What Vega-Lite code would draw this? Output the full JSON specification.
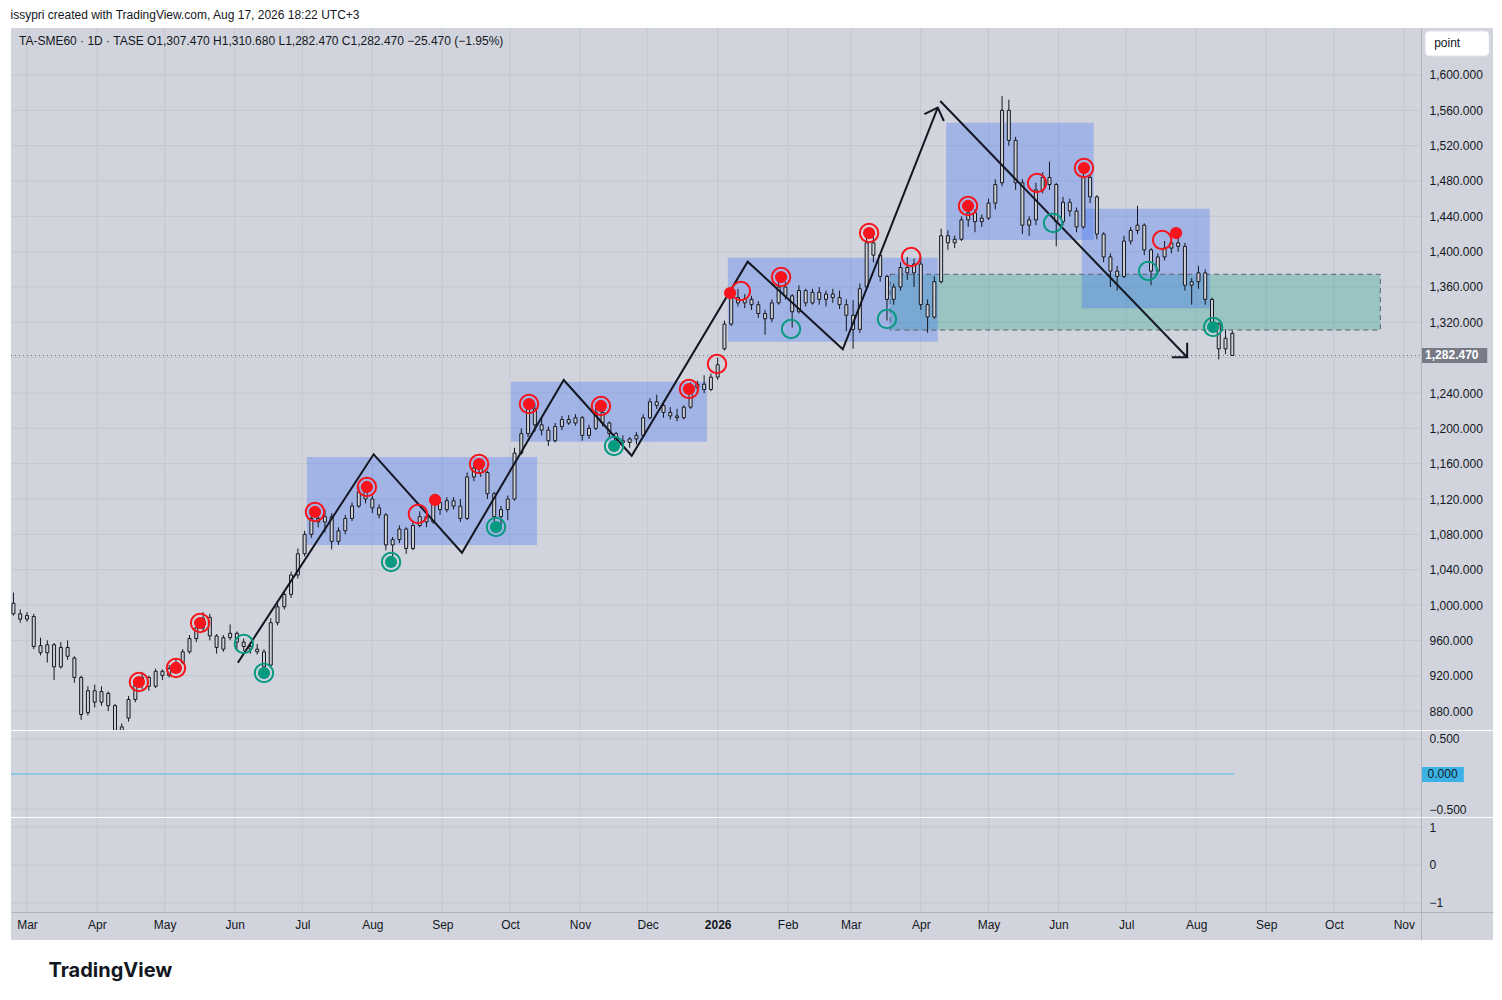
{
  "$schema": "https://vega.github.io/schema/vega-lite/v6.json",
  "padding": {"left": 10, "top": 8, "right": 10, "bottom": 10},
  "spacing": 1,
  "bounds": "flush",
  "config": {
    "font": "Liberation Sans",
    "background": "#ffffff",
    "view": {"stroke": null, "fill": "#d1d4dc"},
    "scale": {"continuousPadding": 0}
  },
  "datasets": {
    "months": [
      {"m": "2025-03-01"}, {"m": "2025-04-01"}, {"m": "2025-05-01"}, {"m": "2025-06-01"}, {"m": "2025-07-01"},
      {"m": "2025-08-01"}, {"m": "2025-09-01"}, {"m": "2025-10-01"}, {"m": "2025-11-01"}, {"m": "2025-12-01"},
      {"m": "2026-01-01"}, {"m": "2026-02-01"}, {"m": "2026-03-01"}, {"m": "2026-04-01"}, {"m": "2026-05-01"},
      {"m": "2026-06-01"}, {"m": "2026-07-01"}, {"m": "2026-08-01"}, {"m": "2026-09-01"}, {"m": "2026-10-01"},
      {"m": "2026-11-01"}
    ],
    "boxes": [
      {"x1": "2026-03-18T10:00:00Z", "x2": "2026-10-21T14:00:00Z", "p1": 1311.3, "p2": 1374.4, "k": "green"},
      {"x1": "2025-07-03T00:00:00Z", "x2": "2025-10-13T00:00:00Z", "p1": 1067.9, "p2": 1167.5, "k": "blue"},
      {"x1": "2025-10-01T10:00:00Z", "x2": "2025-12-27T07:00:00Z", "p1": 1184.9, "p2": 1252.8, "k": "blue"},
      {"x1": "2026-01-05T12:00:00Z", "x2": "2026-04-08T12:00:00Z", "p1": 1298.1, "p2": 1393.2, "k": "blue"},
      {"x1": "2026-04-12T05:00:00Z", "x2": "2026-06-16T14:00:00Z", "p1": 1413.2, "p2": 1546, "k": "blue"},
      {"x1": "2026-06-11T07:00:00Z", "x2": "2026-08-07T00:00:00Z", "p1": 1335.9, "p2": 1448.6, "k": "blue"}
    ],
    "lines": [
      {"g": "zig", "i": 0, "d": "2025-06-02T10:00:00Z", "p": 934.7},
      {"g": "zig", "i": 1, "d": "2025-08-01T14:00:00Z", "p": 1170.6},
      {"g": "zig", "i": 2, "d": "2025-09-09T17:00:00Z", "p": 1059.2},
      {"g": "zig", "i": 3, "d": "2025-10-24T19:00:00Z", "p": 1254.7},
      {"g": "zig", "i": 4, "d": "2025-11-23T22:00:00Z", "p": 1169},
      {"g": "zig", "i": 5, "d": "2026-01-14T07:00:00Z", "p": 1388.7},
      {"g": "zig", "i": 6, "d": "2026-02-25T10:00:00Z", "p": 1289.5},
      {"g": "zig", "i": 7, "d": "2026-04-08T12:00:00Z", "p": 1563},
      {"g": "ah1", "i": 0, "d": "2026-04-02T14:00:00Z", "p": 1555.8},
      {"g": "ah1", "i": 1, "d": "2026-04-08T12:00:00Z", "p": 1563},
      {"g": "ah1", "i": 2, "d": "2026-04-11T05:00:00Z", "p": 1547.9},
      {"g": "down", "i": 0, "d": "2026-04-09T14:00:00Z", "p": 1570.6},
      {"g": "down", "i": 1, "d": "2026-07-28T00:00:00Z", "p": 1280.4},
      {"g": "ah2", "i": 0, "d": "2026-07-28T00:00:00Z", "p": 1296.9},
      {"g": "ah2", "i": 1, "d": "2026-07-28T00:00:00Z", "p": 1280.4},
      {"g": "ah2", "i": 2, "d": "2026-07-21T05:00:00Z", "p": 1280.4}
    ],
    "sig": [
      {"d": "2025-04-19T14:00:00Z", "p": 912.8, "c": "r", "t": "double"},
      {"d": "2025-05-06T00:00:00Z", "p": 928.7, "c": "r", "t": "double"},
      {"d": "2025-05-16T17:00:00Z", "p": 979.6, "c": "r", "t": "double"},
      {"d": "2025-07-06T14:00:00Z", "p": 1105.3, "c": "r", "t": "double"},
      {"d": "2025-07-29T14:00:00Z", "p": 1133.6, "c": "r", "t": "double"},
      {"d": "2025-08-21T05:00:00Z", "p": 1103, "c": "r", "t": "open"},
      {"d": "2025-08-28T19:00:00Z", "p": 1118.9, "c": "r", "t": "dot"},
      {"d": "2025-09-17T07:00:00Z", "p": 1159.6, "c": "r", "t": "double"},
      {"d": "2025-10-09T10:00:00Z", "p": 1227.5, "c": "r", "t": "double"},
      {"d": "2025-11-10T07:00:00Z", "p": 1225.3, "c": "r", "t": "double"},
      {"d": "2025-12-19T07:00:00Z", "p": 1244.5, "c": "r", "t": "double"},
      {"d": "2025-12-31T17:00:00Z", "p": 1272.8, "c": "r", "t": "open"},
      {"d": "2026-01-06T12:00:00Z", "p": 1353.2, "c": "r", "t": "dot"},
      {"d": "2026-01-11T07:00:00Z", "p": 1355.5, "c": "r", "t": "open"},
      {"d": "2026-01-29T02:00:00Z", "p": 1371.3, "c": "r", "t": "double"},
      {"d": "2026-03-09T02:00:00Z", "p": 1421.1, "c": "r", "t": "double"},
      {"d": "2026-03-27T17:00:00Z", "p": 1394, "c": "r", "t": "open"},
      {"d": "2026-04-21T22:00:00Z", "p": 1451.7, "c": "r", "t": "double"},
      {"d": "2026-05-22T12:00:00Z", "p": 1477.7, "c": "r", "t": "open"},
      {"d": "2026-06-12T07:00:00Z", "p": 1494.7, "c": "r", "t": "double"},
      {"d": "2026-07-16T22:00:00Z", "p": 1413.2, "c": "r", "t": "open"},
      {"d": "2026-07-23T02:00:00Z", "p": 1421.1, "c": "r", "t": "dot"},
      {"d": "2025-06-05T02:00:00Z", "p": 955.8, "c": "g", "t": "open"},
      {"d": "2025-06-14T00:00:00Z", "p": 923, "c": "g", "t": "double"},
      {"d": "2025-08-09T07:00:00Z", "p": 1048.7, "c": "g", "t": "double"},
      {"d": "2025-09-24T19:00:00Z", "p": 1088.3, "c": "g", "t": "double"},
      {"d": "2025-11-16T02:00:00Z", "p": 1180, "c": "g", "t": "double"},
      {"d": "2026-02-02T12:00:00Z", "p": 1312.4, "c": "g", "t": "open"},
      {"d": "2026-03-17T00:00:00Z", "p": 1323.7, "c": "g", "t": "open"},
      {"d": "2026-05-29T14:00:00Z", "p": 1432.4, "c": "g", "t": "open"},
      {"d": "2026-07-10T17:00:00Z", "p": 1378.1, "c": "g", "t": "open"},
      {"d": "2026-08-08T12:00:00Z", "p": 1314.7, "c": "g", "t": "double"}
    ],
    "cndl": [
      {"d": "2025-02-23", "o": 1002, "h": 1014, "l": 988, "c": 990},
      {"d": "2025-02-26", "o": 990, "h": 995, "l": 980, "c": 984},
      {"d": "2025-03-01", "o": 984, "h": 992, "l": 981, "c": 988},
      {"d": "2025-03-04", "o": 987, "h": 990, "l": 950, "c": 953},
      {"d": "2025-03-07", "o": 954, "h": 963, "l": 943, "c": 946},
      {"d": "2025-03-10", "o": 946, "h": 960, "l": 935, "c": 955},
      {"d": "2025-03-13", "o": 955, "h": 957, "l": 915, "c": 930},
      {"d": "2025-03-16", "o": 930, "h": 958, "l": 928, "c": 952},
      {"d": "2025-03-19", "o": 952, "h": 960, "l": 938, "c": 942},
      {"d": "2025-03-22", "o": 940, "h": 942, "l": 912, "c": 918},
      {"d": "2025-03-25", "o": 918, "h": 920, "l": 870, "c": 876},
      {"d": "2025-03-28", "o": 878, "h": 908, "l": 875, "c": 903},
      {"d": "2025-03-31", "o": 903, "h": 910, "l": 884, "c": 890},
      {"d": "2025-04-03", "o": 890, "h": 908, "l": 886, "c": 902},
      {"d": "2025-04-06", "o": 900, "h": 902, "l": 880, "c": 886},
      {"d": "2025-04-09", "o": 886, "h": 888, "l": 848, "c": 858},
      {"d": "2025-04-12", "o": 858, "h": 866, "l": 850, "c": 862},
      {"d": "2025-04-15", "o": 872, "h": 897, "l": 868, "c": 893},
      {"d": "2025-04-18", "o": 893, "h": 915, "l": 890, "c": 910},
      {"d": "2025-04-21", "o": 910, "h": 924, "l": 905, "c": 918},
      {"d": "2025-04-24", "o": 918, "h": 920, "l": 903, "c": 908},
      {"d": "2025-04-27", "o": 908, "h": 928, "l": 906, "c": 925},
      {"d": "2025-04-30", "o": 925, "h": 927, "l": 915, "c": 920},
      {"d": "2025-05-03", "o": 920, "h": 932, "l": 918, "c": 928},
      {"d": "2025-05-06", "o": 928, "h": 940, "l": 922, "c": 935},
      {"d": "2025-05-09", "o": 935, "h": 950, "l": 933, "c": 947},
      {"d": "2025-05-12", "o": 947, "h": 966, "l": 945, "c": 962},
      {"d": "2025-05-15", "o": 962, "h": 977, "l": 958, "c": 974},
      {"d": "2025-05-18", "o": 974, "h": 992, "l": 970, "c": 985},
      {"d": "2025-05-21", "o": 986, "h": 990, "l": 960, "c": 965},
      {"d": "2025-05-24", "o": 965, "h": 967, "l": 945, "c": 952},
      {"d": "2025-05-27", "o": 950, "h": 966, "l": 947, "c": 963},
      {"d": "2025-05-30", "o": 963, "h": 978, "l": 960, "c": 968},
      {"d": "2025-06-02", "o": 968, "h": 970, "l": 950, "c": 958},
      {"d": "2025-06-05", "o": 958, "h": 962, "l": 948, "c": 953},
      {"d": "2025-06-08", "o": 953, "h": 957, "l": 945, "c": 950},
      {"d": "2025-06-11", "o": 950, "h": 956, "l": 944, "c": 947},
      {"d": "2025-06-14", "o": 947, "h": 950, "l": 920, "c": 930},
      {"d": "2025-06-17", "o": 932, "h": 985, "l": 930, "c": 980},
      {"d": "2025-06-20", "o": 980, "h": 1002, "l": 977, "c": 998},
      {"d": "2025-06-23", "o": 998, "h": 1016, "l": 995, "c": 1012},
      {"d": "2025-06-26", "o": 1012, "h": 1038, "l": 1008, "c": 1034},
      {"d": "2025-06-29", "o": 1034, "h": 1064, "l": 1030, "c": 1058},
      {"d": "2025-07-02", "o": 1058, "h": 1084, "l": 1055, "c": 1080},
      {"d": "2025-07-05", "o": 1080, "h": 1104, "l": 1076, "c": 1098},
      {"d": "2025-07-08", "o": 1098, "h": 1105, "l": 1088, "c": 1094},
      {"d": "2025-07-11", "o": 1094, "h": 1108, "l": 1082, "c": 1100},
      {"d": "2025-07-14", "o": 1100, "h": 1104, "l": 1063, "c": 1072},
      {"d": "2025-07-17", "o": 1072, "h": 1088, "l": 1068, "c": 1084},
      {"d": "2025-07-20", "o": 1084, "h": 1102, "l": 1080, "c": 1098},
      {"d": "2025-07-23", "o": 1098, "h": 1116, "l": 1095, "c": 1112},
      {"d": "2025-07-26", "o": 1112, "h": 1134, "l": 1110, "c": 1128},
      {"d": "2025-07-29", "o": 1128, "h": 1136, "l": 1115, "c": 1120},
      {"d": "2025-08-01", "o": 1120, "h": 1124, "l": 1104, "c": 1110},
      {"d": "2025-08-04", "o": 1110, "h": 1114, "l": 1098, "c": 1102},
      {"d": "2025-08-07", "o": 1102, "h": 1104, "l": 1062, "c": 1068},
      {"d": "2025-08-10", "o": 1068, "h": 1077, "l": 1055, "c": 1074},
      {"d": "2025-08-13", "o": 1074, "h": 1090, "l": 1070, "c": 1086},
      {"d": "2025-08-16", "o": 1086, "h": 1088, "l": 1058, "c": 1064},
      {"d": "2025-08-19", "o": 1064, "h": 1094, "l": 1062, "c": 1090},
      {"d": "2025-08-22", "o": 1090, "h": 1106, "l": 1088, "c": 1100},
      {"d": "2025-08-25", "o": 1100, "h": 1102, "l": 1088, "c": 1094},
      {"d": "2025-08-28", "o": 1094, "h": 1122, "l": 1092, "c": 1116},
      {"d": "2025-08-31", "o": 1116, "h": 1122, "l": 1102, "c": 1108},
      {"d": "2025-09-03", "o": 1108, "h": 1122, "l": 1105, "c": 1118},
      {"d": "2025-09-06", "o": 1118, "h": 1122, "l": 1108, "c": 1112},
      {"d": "2025-09-09", "o": 1112, "h": 1120, "l": 1094, "c": 1098},
      {"d": "2025-09-12", "o": 1098, "h": 1150, "l": 1096, "c": 1145},
      {"d": "2025-09-15", "o": 1145, "h": 1160, "l": 1140, "c": 1155},
      {"d": "2025-09-18", "o": 1155, "h": 1162, "l": 1145, "c": 1150},
      {"d": "2025-09-21", "o": 1150, "h": 1152, "l": 1120, "c": 1126},
      {"d": "2025-09-24", "o": 1126, "h": 1128, "l": 1094, "c": 1100},
      {"d": "2025-09-27", "o": 1100, "h": 1112, "l": 1085, "c": 1108},
      {"d": "2025-09-30", "o": 1108, "h": 1124, "l": 1096, "c": 1120},
      {"d": "2025-10-03", "o": 1120, "h": 1178, "l": 1118, "c": 1172},
      {"d": "2025-10-06", "o": 1172, "h": 1200, "l": 1170, "c": 1194},
      {"d": "2025-10-09", "o": 1194, "h": 1230, "l": 1190, "c": 1222},
      {"d": "2025-10-12", "o": 1222, "h": 1228, "l": 1196, "c": 1204},
      {"d": "2025-10-15", "o": 1204, "h": 1212, "l": 1192, "c": 1198},
      {"d": "2025-10-18", "o": 1198, "h": 1202, "l": 1180, "c": 1186},
      {"d": "2025-10-21", "o": 1186, "h": 1206, "l": 1184, "c": 1202},
      {"d": "2025-10-24", "o": 1202, "h": 1214, "l": 1198, "c": 1210},
      {"d": "2025-10-27", "o": 1210, "h": 1215, "l": 1204, "c": 1206},
      {"d": "2025-10-30", "o": 1206, "h": 1216, "l": 1203, "c": 1212},
      {"d": "2025-11-02", "o": 1212, "h": 1214, "l": 1186, "c": 1192},
      {"d": "2025-11-05", "o": 1192, "h": 1204, "l": 1188, "c": 1200},
      {"d": "2025-11-08", "o": 1200, "h": 1225, "l": 1198, "c": 1218},
      {"d": "2025-11-11", "o": 1218, "h": 1226, "l": 1202, "c": 1206},
      {"d": "2025-11-14", "o": 1206, "h": 1208, "l": 1188, "c": 1194},
      {"d": "2025-11-17", "o": 1194, "h": 1196, "l": 1178, "c": 1186},
      {"d": "2025-11-20", "o": 1186, "h": 1192, "l": 1180, "c": 1184},
      {"d": "2025-11-23", "o": 1184, "h": 1190, "l": 1178, "c": 1188},
      {"d": "2025-11-26", "o": 1188, "h": 1196, "l": 1182, "c": 1192},
      {"d": "2025-11-29", "o": 1192, "h": 1216, "l": 1190, "c": 1212},
      {"d": "2025-12-02", "o": 1212, "h": 1234, "l": 1210, "c": 1230},
      {"d": "2025-12-05", "o": 1230, "h": 1238, "l": 1222, "c": 1226},
      {"d": "2025-12-08", "o": 1226, "h": 1228, "l": 1212, "c": 1218},
      {"d": "2025-12-11", "o": 1218, "h": 1224, "l": 1210, "c": 1214},
      {"d": "2025-12-14", "o": 1214, "h": 1222, "l": 1208, "c": 1212},
      {"d": "2025-12-17", "o": 1212, "h": 1226, "l": 1210, "c": 1224},
      {"d": "2025-12-20", "o": 1224, "h": 1252, "l": 1222, "c": 1246},
      {"d": "2025-12-23", "o": 1246, "h": 1254, "l": 1240, "c": 1250},
      {"d": "2025-12-26", "o": 1250, "h": 1260, "l": 1240, "c": 1244},
      {"d": "2025-12-29", "o": 1244, "h": 1262, "l": 1242, "c": 1258},
      {"d": "2026-01-01", "o": 1258, "h": 1280, "l": 1255, "c": 1272},
      {"d": "2026-01-04", "o": 1290, "h": 1322, "l": 1288, "c": 1318},
      {"d": "2026-01-07", "o": 1318, "h": 1356, "l": 1316, "c": 1348},
      {"d": "2026-01-10", "o": 1348, "h": 1358, "l": 1338, "c": 1342},
      {"d": "2026-01-13", "o": 1342, "h": 1352, "l": 1336, "c": 1346},
      {"d": "2026-01-16", "o": 1346, "h": 1350, "l": 1334, "c": 1340},
      {"d": "2026-01-19", "o": 1340, "h": 1344, "l": 1325, "c": 1330},
      {"d": "2026-01-22", "o": 1330, "h": 1334, "l": 1306, "c": 1324},
      {"d": "2026-01-25", "o": 1324, "h": 1346, "l": 1320, "c": 1342},
      {"d": "2026-01-28", "o": 1342, "h": 1372, "l": 1340, "c": 1360},
      {"d": "2026-01-31", "o": 1360, "h": 1366, "l": 1346, "c": 1350},
      {"d": "2026-02-03", "o": 1350, "h": 1352, "l": 1314, "c": 1332},
      {"d": "2026-02-06", "o": 1332, "h": 1362, "l": 1330, "c": 1356},
      {"d": "2026-02-09", "o": 1356, "h": 1358, "l": 1338, "c": 1342},
      {"d": "2026-02-12", "o": 1342, "h": 1358, "l": 1340, "c": 1354},
      {"d": "2026-02-15", "o": 1354, "h": 1360, "l": 1340, "c": 1346},
      {"d": "2026-02-18", "o": 1346, "h": 1356, "l": 1338, "c": 1352},
      {"d": "2026-02-21", "o": 1352, "h": 1358, "l": 1342, "c": 1348},
      {"d": "2026-02-24", "o": 1348, "h": 1356, "l": 1335, "c": 1340},
      {"d": "2026-02-27", "o": 1340, "h": 1346, "l": 1310, "c": 1328},
      {"d": "2026-03-02", "o": 1328, "h": 1345, "l": 1290, "c": 1312},
      {"d": "2026-03-05", "o": 1312, "h": 1364, "l": 1308, "c": 1358},
      {"d": "2026-03-08", "o": 1360, "h": 1416, "l": 1356, "c": 1410},
      {"d": "2026-03-11", "o": 1410, "h": 1422, "l": 1388, "c": 1396},
      {"d": "2026-03-14", "o": 1396, "h": 1398, "l": 1366, "c": 1372},
      {"d": "2026-03-17", "o": 1372, "h": 1374, "l": 1322, "c": 1346},
      {"d": "2026-03-20", "o": 1346, "h": 1364, "l": 1340, "c": 1360},
      {"d": "2026-03-23", "o": 1360, "h": 1388, "l": 1356, "c": 1382},
      {"d": "2026-03-26", "o": 1382, "h": 1394, "l": 1368, "c": 1376},
      {"d": "2026-03-29", "o": 1376, "h": 1392, "l": 1360, "c": 1386},
      {"d": "2026-04-01", "o": 1386, "h": 1394, "l": 1334, "c": 1340},
      {"d": "2026-04-04", "o": 1340, "h": 1346, "l": 1308, "c": 1326},
      {"d": "2026-04-07", "o": 1326, "h": 1372, "l": 1324, "c": 1366},
      {"d": "2026-04-10", "o": 1366, "h": 1426, "l": 1364, "c": 1418},
      {"d": "2026-04-13", "o": 1418, "h": 1424, "l": 1402, "c": 1410},
      {"d": "2026-04-16", "o": 1410, "h": 1418, "l": 1404, "c": 1414},
      {"d": "2026-04-19", "o": 1414, "h": 1440, "l": 1412, "c": 1436},
      {"d": "2026-04-22", "o": 1436, "h": 1452, "l": 1428, "c": 1444},
      {"d": "2026-04-25", "o": 1444, "h": 1448, "l": 1422, "c": 1434},
      {"d": "2026-04-28", "o": 1434, "h": 1442, "l": 1428, "c": 1438},
      {"d": "2026-05-01", "o": 1438, "h": 1460, "l": 1436, "c": 1455},
      {"d": "2026-05-04", "o": 1455, "h": 1482, "l": 1448, "c": 1476},
      {"d": "2026-05-07", "o": 1478, "h": 1576, "l": 1474, "c": 1560},
      {"d": "2026-05-10", "o": 1560, "h": 1572, "l": 1520, "c": 1526},
      {"d": "2026-05-13", "o": 1526, "h": 1530, "l": 1470, "c": 1478},
      {"d": "2026-05-16", "o": 1478, "h": 1482, "l": 1420, "c": 1430},
      {"d": "2026-05-19", "o": 1430, "h": 1440, "l": 1418, "c": 1436},
      {"d": "2026-05-22", "o": 1436, "h": 1478, "l": 1430, "c": 1470},
      {"d": "2026-05-25", "o": 1470, "h": 1490, "l": 1466, "c": 1484},
      {"d": "2026-05-28", "o": 1484, "h": 1502, "l": 1470, "c": 1476},
      {"d": "2026-05-31", "o": 1476, "h": 1478, "l": 1406, "c": 1434},
      {"d": "2026-06-03", "o": 1434, "h": 1462, "l": 1430, "c": 1456},
      {"d": "2026-06-06", "o": 1456, "h": 1460, "l": 1440, "c": 1446},
      {"d": "2026-06-09", "o": 1446, "h": 1450, "l": 1422, "c": 1428},
      {"d": "2026-06-12", "o": 1428, "h": 1496, "l": 1426, "c": 1484},
      {"d": "2026-06-15", "o": 1484, "h": 1488, "l": 1455, "c": 1462},
      {"d": "2026-06-18", "o": 1462, "h": 1464, "l": 1414, "c": 1420},
      {"d": "2026-06-21", "o": 1420, "h": 1422, "l": 1388, "c": 1394},
      {"d": "2026-06-24", "o": 1394, "h": 1398, "l": 1360, "c": 1378},
      {"d": "2026-06-27", "o": 1378, "h": 1384, "l": 1356, "c": 1372},
      {"d": "2026-06-30", "o": 1372, "h": 1418, "l": 1370, "c": 1412},
      {"d": "2026-07-03", "o": 1412, "h": 1428, "l": 1408, "c": 1424},
      {"d": "2026-07-06", "o": 1424, "h": 1452, "l": 1420, "c": 1430},
      {"d": "2026-07-09", "o": 1430, "h": 1432, "l": 1396, "c": 1402},
      {"d": "2026-07-12", "o": 1402, "h": 1404, "l": 1362, "c": 1378},
      {"d": "2026-07-15", "o": 1378, "h": 1398, "l": 1374, "c": 1394},
      {"d": "2026-07-18", "o": 1394, "h": 1412, "l": 1390, "c": 1404},
      {"d": "2026-07-21", "o": 1404, "h": 1414, "l": 1398, "c": 1410},
      {"d": "2026-07-24", "o": 1410, "h": 1422, "l": 1400, "c": 1406},
      {"d": "2026-07-27", "o": 1406, "h": 1410, "l": 1356, "c": 1362},
      {"d": "2026-07-30", "o": 1362, "h": 1370, "l": 1340, "c": 1366},
      {"d": "2026-08-02", "o": 1366, "h": 1384, "l": 1358, "c": 1376},
      {"d": "2026-08-05", "o": 1376, "h": 1380, "l": 1340, "c": 1346},
      {"d": "2026-08-08", "o": 1346, "h": 1348, "l": 1312, "c": 1318},
      {"d": "2026-08-11", "o": 1318, "h": 1320, "l": 1278, "c": 1290},
      {"d": "2026-08-14", "o": 1290, "h": 1312, "l": 1284, "c": 1302},
      {"d": "2026-08-17", "o": 1307.47, "h": 1310.68, "l": 1282.47, "c": 1282.47}
    ]
  },
  "vconcat": [
    {
      "width": 1482,
      "height": 702,
      "title": {"text": "issypri created with TradingView.com, Aug 17, 2026 18:22 UTC+3", "anchor": "start", "fontSize": 12, "fontWeight": "normal", "color": "#131722", "offset": 6},
      "layer": [
        {
          "data": {"values": [{"p": 880}, {"p": 920}, {"p": 960}, {"p": 1000}, {"p": 1040}, {"p": 1080}, {"p": 1120}, {"p": 1160}, {"p": 1200}, {"p": 1240}, {"p": 1280}, {"p": 1320}, {"p": 1360}, {"p": 1400}, {"p": 1440}, {"p": 1480}, {"p": 1520}, {"p": 1560}, {"p": 1600}]},
          "mark": {"type": "rule", "color": "#c4c7d0", "strokeWidth": 1},
          "encoding": {
            "x": {"datum": {"year": 2025, "month": 2, "date": 21, "hours": 22, "utc": true}, "type": "temporal", "scale": {"type": "utc", "padding": 0, "domain": [{"year": 2025, "month": 2, "date": 21, "hours": 22, "utc": true}, {"year": 2026, "month": 12, "date": 10, "hours": 12, "utc": true}]}, "axis": null},
            "x2": {"datum": {"year": 2026, "month": 11, "date": 8, "hours": 14, "utc": true}},
            "y": {"field": "p", "type": "quantitative", "scale": {"domain": [858.5, 1653.2], "nice": false, "zero": false, "padding": 0},
              "axis": {"orient": "right", "offset": -72, "values": [880, 920, 960, 1000, 1040, 1080, 1120, 1160, 1200, 1240, 1320, 1360, 1400, 1440, 1480, 1520, 1560, 1600], "format": ",.3f", "title": null, "grid": false, "ticks": false, "domain": true, "domainColor": "#b2b5be", "labelPadding": 8, "labelFontSize": 12, "labelColor": "#131722", "labelOverlap": false, "labelFlush": false}}
          }
        },
        {
          "data": {"name": "months"},
          "mark": {"type": "rule", "color": "#c4c7d0", "strokeWidth": 1},
          "encoding": {
            "x": {"field": "m", "type": "temporal", "axis": null}
          }
        },
        {
          "data": {"name": "boxes"},
          "mark": {"type": "rect", "opacity": 0.28},
          "encoding": {
            "x": {"field": "x1", "type": "temporal", "axis": null},
            "x2": {"field": "x2"},
            "y": {"field": "p1", "type": "quantitative"},
            "y2": {"field": "p2"},
            "fill": {"condition": {"test": "datum.k == 'green'", "value": "#089981"}, "value": "#2962ff"}
          }
        },
        {
          "data": {"name": "boxes"},
          "transform": [{"filter": "datum.k == 'green'"}],
          "mark": {"type": "rect", "fillOpacity": 0, "stroke": "#5d606b", "strokeWidth": 1, "strokeDash": [5, 4]},
          "encoding": {
            "x": {"field": "x1", "type": "temporal", "axis": null},
            "x2": {"field": "x2"},
            "y": {"field": "p1", "type": "quantitative"},
            "y2": {"field": "p2"}
          }
        },
        {
          "data": {"values": [{"p": 1282.47}]},
          "mark": {"type": "rule", "color": "#6a6d78", "strokeWidth": 1, "strokeDash": [1, 3]},
          "encoding": {
            "x": {"datum": {"year": 2025, "month": 2, "date": 21, "hours": 22, "utc": true}, "type": "temporal", "axis": null},
            "x2": {"datum": {"year": 2026, "month": 11, "date": 8, "hours": 14, "utc": true}},
            "y": {"field": "p", "type": "quantitative"}
          }
        },
        {
          "data": {"name": "cndl"},
          "mark": {"type": "rule", "color": "#131722", "strokeWidth": 1, "clip": true},
          "encoding": {
            "x": {"field": "d", "type": "temporal", "axis": null},
            "y": {"field": "l", "type": "quantitative"},
            "y2": {"field": "h"}
          }
        },
        {
          "data": {"name": "cndl"},
          "mark": {"type": "bar", "size": 3, "stroke": "#131722", "strokeWidth": 1, "fill": "#cfd1d7", "clip": true},
          "encoding": {
            "x": {"field": "d", "type": "temporal", "axis": null},
            "y": {"field": "o", "type": "quantitative"},
            "y2": {"field": "c"}
          }
        },
        {
          "data": {"name": "lines"},
          "mark": {"type": "line", "color": "#131722", "strokeWidth": 2},
          "encoding": {
            "x": {"field": "d", "type": "temporal", "axis": null},
            "y": {"field": "p", "type": "quantitative"},
            "detail": {"field": "g", "type": "nominal"},
            "order": {"field": "i", "type": "quantitative"}
          }
        },
        {
          "data": {"name": "sig"},
          "transform": [{"filter": "datum.t != 'dot'"}],
          "mark": {"type": "point", "filled": false, "size": 340, "strokeWidth": 2, "opacity": 1},
          "encoding": {
            "x": {"field": "d", "type": "temporal", "axis": null},
            "y": {"field": "p", "type": "quantitative"},
            "color": {"condition": {"test": "datum.c == 'r'", "value": "#f7141c"}, "value": "#089981"}
          }
        },
        {
          "data": {"name": "sig"},
          "transform": [{"filter": "datum.t != 'open'"}],
          "mark": {"type": "point", "filled": true, "size": 150, "opacity": 1},
          "encoding": {
            "x": {"field": "d", "type": "temporal", "axis": null},
            "y": {"field": "p", "type": "quantitative"},
            "color": {"condition": {"test": "datum.c == 'r'", "value": "#f7141c"}, "value": "#089981"}
          }
        },
        {
          "data": {"values": [{"t": "TA-SME60 · 1D · TASE  O1,307.470  H1,310.680  L1,282.470  C1,282.470  −25.470 (−1.95%)"}]},
          "mark": {"type": "text", "align": "left", "baseline": "middle", "fontSize": 12, "color": "#131722"},
          "encoding": {
            "x": {"datum": {"year": 2025, "month": 2, "date": 25, "hours": 11, "utc": true}, "type": "temporal", "axis": null},
            "y": {"datum": 1638.5, "type": "quantitative"},
            "text": {"field": "t"}
          }
        },
        {
          "data": {"values": [{"x1": "2026-11-10T10:00:00Z", "x2": "2026-12-08T19:00:00Z", "p1": 1621.5, "p2": 1649.8}]},
          "mark": {"type": "rect", "fill": "#ffffff", "cornerRadius": 4, "stroke": "#e0e3eb"},
          "encoding": {
            "x": {"field": "x1", "type": "temporal", "axis": null},
            "x2": {"field": "x2"},
            "y": {"field": "p1", "type": "quantitative"},
            "y2": {"field": "p2"}
          }
        },
        {
          "data": {"values": [{"d": "2026-11-14T10:00:00Z", "p": 1635.7, "t": "point"}]},
          "mark": {"type": "text", "align": "left", "baseline": "middle", "fontSize": 12, "color": "#131722"},
          "encoding": {
            "x": {"field": "d", "type": "temporal", "axis": null},
            "y": {"field": "p", "type": "quantitative"},
            "text": {"field": "t"}
          }
        },
        {
          "data": {"values": [{"x1": "2026-11-09T01:00:00Z", "x2": "2026-12-07T23:00:00Z", "p1": 1274, "p2": 1291}]},
          "mark": {"type": "rect", "fill": "#787b86"},
          "encoding": {
            "x": {"field": "x1", "type": "temporal", "axis": null},
            "x2": {"field": "x2"},
            "y": {"field": "p1", "type": "quantitative"},
            "y2": {"field": "p2"}
          }
        },
        {
          "data": {"values": [{"d": "2026-11-10T10:00:00Z", "p": 1282.47, "t": "1,282.470"}]},
          "mark": {"type": "text", "align": "left", "baseline": "middle", "fontSize": 12, "fontWeight": "bold", "color": "#ffffff"},
          "encoding": {
            "x": {"field": "d", "type": "temporal", "axis": null},
            "y": {"field": "p", "type": "quantitative"},
            "text": {"field": "t"}
          }
        }
      ]
    },
    {
      "width": 1482,
      "height": 86,
      "layer": [
        {
          "data": {"values": [{"p": 0.5}, {"p": -0.5}]},
          "mark": {"type": "rule", "color": "#c4c7d0", "strokeWidth": 1},
          "encoding": {
            "x": {"datum": {"year": 2025, "month": 2, "date": 21, "hours": 22, "utc": true}, "type": "temporal", "scale": {"type": "utc", "padding": 0, "domain": [{"year": 2025, "month": 2, "date": 21, "hours": 22, "utc": true}, {"year": 2026, "month": 12, "date": 10, "hours": 12, "utc": true}]}, "axis": null},
            "x2": {"datum": {"year": 2026, "month": 11, "date": 8, "hours": 14, "utc": true}},
            "y": {"field": "p", "type": "quantitative", "scale": {"domain": [-0.614, 0.614], "nice": false, "zero": false, "padding": 0},
              "axis": {"orient": "right", "offset": -72, "values": [0.5, -0.5], "format": ".3f", "title": null, "grid": false, "ticks": false, "domain": true, "domainColor": "#b2b5be", "labelPadding": 8, "labelFontSize": 12, "labelColor": "#131722", "labelOverlap": false, "labelFlush": false}}
          }
        },
        {
          "data": {"name": "months"},
          "mark": {"type": "rule", "color": "#c4c7d0", "strokeWidth": 1},
          "encoding": {
            "x": {"field": "m", "type": "temporal", "axis": null}
          }
        },
        {
          "data": {"values": [{"p": 0}]},
          "mark": {"type": "rule", "color": "#4fb8e5", "strokeWidth": 1},
          "encoding": {
            "x": {"datum": {"year": 2025, "month": 2, "date": 21, "hours": 22, "utc": true}, "type": "temporal", "axis": null},
            "x2": {"datum": {"year": 2026, "month": 8, "date": 17, "hours": 19, "utc": true}},
            "y": {"field": "p", "type": "quantitative"}
          }
        },
        {
          "data": {"values": [{"x1": "2026-11-09T01:00:00Z", "x2": "2026-11-27T14:00:00Z", "p1": -0.114, "p2": 0.1}]},
          "mark": {"type": "rect", "fill": "#3bb2e6"},
          "encoding": {
            "x": {"field": "x1", "type": "temporal", "axis": null},
            "x2": {"field": "x2"},
            "y": {"field": "p1", "type": "quantitative"},
            "y2": {"field": "p2"}
          }
        },
        {
          "data": {"values": [{"d": "2026-11-11T12:00:00Z", "p": 0, "t": "0.000"}]},
          "mark": {"type": "text", "align": "left", "baseline": "middle", "fontSize": 12, "color": "#131722"},
          "encoding": {
            "x": {"field": "d", "type": "temporal", "axis": null},
            "y": {"field": "p", "type": "quantitative"},
            "text": {"field": "t"}
          }
        }
      ]
    },
    {
      "width": 1482,
      "height": 122,
      "title": {"text": "TradingView", "orient": "bottom", "anchor": "start", "fontSize": 20, "fontWeight": "bold", "font": "Inter", "color": "#131722", "offset": 21, "dx": 38},
      "layer": [
        {
          "data": {"values": [{"p": 1}, {"p": 0}, {"p": -1}]},
          "mark": {"type": "rule", "color": "#c4c7d0", "strokeWidth": 1},
          "encoding": {
            "x": {"datum": {"year": 2025, "month": 2, "date": 21, "hours": 22, "utc": true}, "type": "temporal", "scale": {"type": "utc", "padding": 0, "domain": [{"year": 2025, "month": 2, "date": 21, "hours": 22, "utc": true}, {"year": 2026, "month": 12, "date": 10, "hours": 12, "utc": true}]}},
            "x2": {"datum": {"year": 2026, "month": 11, "date": 8, "hours": 14, "utc": true}},
            "y": {"field": "p", "type": "quantitative", "scale": {"domain": [-1.974, 1.237], "nice": false, "zero": false, "padding": 0},
              "axis": {"orient": "right", "offset": -72, "values": [1, 0, -1], "format": "d", "title": null, "grid": false, "ticks": false, "domain": true, "domainColor": "#b2b5be", "labelPadding": 8, "labelFontSize": 12, "labelColor": "#131722", "labelOverlap": false, "labelFlush": false}}
          }
        },
        {
          "data": {"name": "months"},
          "mark": {"type": "rule", "color": "#c4c7d0", "strokeWidth": 1},
          "encoding": {
            "x": {"field": "m", "type": "temporal",
              "axis": {"orient": "bottom", "offset": -28, "title": null, "grid": false, "ticks": false, "domain": true, "domainColor": "#b2b5be", "labelPadding": 7, "labelFontSize": 12, "labelColor": "#131722", "labelOverlap": false, "labelFlush": false,
                "values": [
                  {"year": 2025, "month": 3, "date": 1, "utc": true}, {"year": 2025, "month": 4, "date": 1, "utc": true}, {"year": 2025, "month": 5, "date": 1, "utc": true},
                  {"year": 2025, "month": 6, "date": 1, "utc": true}, {"year": 2025, "month": 7, "date": 1, "utc": true}, {"year": 2025, "month": 8, "date": 1, "utc": true},
                  {"year": 2025, "month": 9, "date": 1, "utc": true}, {"year": 2025, "month": 10, "date": 1, "utc": true}, {"year": 2025, "month": 11, "date": 1, "utc": true},
                  {"year": 2025, "month": 12, "date": 1, "utc": true}, {"year": 2026, "month": 1, "date": 1, "utc": true}, {"year": 2026, "month": 2, "date": 1, "utc": true},
                  {"year": 2026, "month": 3, "date": 1, "utc": true}, {"year": 2026, "month": 4, "date": 1, "utc": true}, {"year": 2026, "month": 5, "date": 1, "utc": true},
                  {"year": 2026, "month": 6, "date": 1, "utc": true}, {"year": 2026, "month": 7, "date": 1, "utc": true}, {"year": 2026, "month": 8, "date": 1, "utc": true},
                  {"year": 2026, "month": 9, "date": 1, "utc": true}, {"year": 2026, "month": 10, "date": 1, "utc": true}, {"year": 2026, "month": 11, "date": 1, "utc": true}
                ],
                "labelExpr": "utcmonth(datum.value) == 0 ? utcFormat(datum.value, '%Y') : utcFormat(datum.value, '%b')",
                "labelFontWeight": {"condition": {"test": "utcmonth(datum.value) == 0", "value": "bold"}, "value": "normal"}}},
            "y": {"datum": 1.237, "type": "quantitative"},
            "y2": {"datum": -1.237}
          }
        }
      ]
    }
  ]
}
